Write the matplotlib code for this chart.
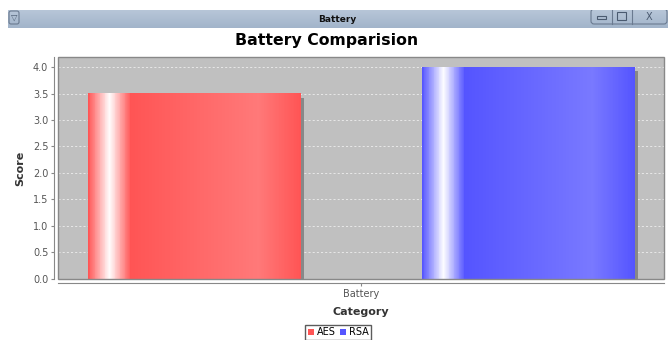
import numpy as np
import matplotlib
matplotlib.use('Agg')
import matplotlib.pyplot as plt
import matplotlib.transforms as mtransforms
from matplotlib.colors import LinearSegmentedColormap, to_rgb
from matplotlib.patches import Patch, Rectangle, FancyBboxPatch

# data
categories = ['Battery']
series = ['AES', 'RSA']
scores = [3.5, 4.0]
colors = ['#FF5555', '#5555FF']
yticks = [0.0, 0.5, 1.0, 1.5, 2.0, 2.5, 3.0, 3.5, 4.0]

plt.rcParams['font.family'] = ['DejaVu Sans']

fig = plt.figure(figsize=(6.71, 3.40), dpi=100)
W, H = 671, 340


def brighter(c):
    r, g, b = to_rgb(c)
    return tuple(min(1.0, v / 0.7) for v in (r, g, b))


# window title bar
bar_ax = fig.add_axes([8 / W, 1 - 28 / H, 660 / W, 18 / H])
grad = np.linspace(0, 1, 64).reshape(-1, 1)
bar_cmap = LinearSegmentedColormap.from_list('tb', ['#B7C6D8', '#A2B4CA'])
bar_ax.imshow(grad, aspect='auto', cmap=bar_cmap, extent=(0, 660, 0, 18))
bar_ax.set_xlim(0, 660)
bar_ax.set_ylim(0, 18)
bar_ax.axis('off')
bar_ax.text(329, 8, 'Battery', ha='center', va='center', fontsize=6.5,
            fontweight='bold', color='#111111')
bar_ax.add_patch(FancyBboxPatch((1, 4), 10, 13, boxstyle='round,pad=0,rounding_size=2',
                                fc='none', ec='#6a7a90', lw=0.8))
bar_ax.text(6, 11, '▽', ha='center', va='center', fontsize=6, color='#4a5a70')
bar_ax.add_patch(FancyBboxPatch((583, 4), 76, 15, boxstyle='round,pad=0,rounding_size=3',
                                fc='none', ec='#6a7a90', lw=0.8))
bar_ax.plot([604, 604], [4, 18], color='#6a7a90', lw=0.8)
bar_ax.plot([624, 624], [4, 18], color='#6a7a90', lw=0.8)
bar_ax.add_patch(Rectangle((589, 9), 9, 3, fc='none', ec='#4a5a70', lw=0.8))
bar_ax.add_patch(Rectangle((609, 8), 9, 8, fc='none', ec='#4a5a70', lw=0.8))
bar_ax.text(641, 11, 'X', ha='center', va='center', fontsize=7, color='#4a5a70')

# chart
ax = fig.add_axes([58 / W, (H - 279) / H, 606 / W, 222 / H])
ax.set_facecolor('#C0C0C0')

x = np.arange(len(categories))
offsets = [-0.55, 0.55]
width = 0.70

shadow = mtransforms.ScaledTranslation(4 / 100, -4 / 100, fig.dpi_scale_trans)
for i, name in enumerate(series):
    ax.bar(x + offsets[i], [scores[i]], width, color='#888888', linewidth=0,
           transform=ax.transData + shadow, zorder=2)
    bars = ax.bar(x + offsets[i], [scores[i]], width, color=colors[i], linewidth=0,
                  label=name, zorder=3)
    c0 = to_rgb(colors[i])
    c1 = brighter(colors[i])
    cmap = LinearSegmentedColormap.from_list(
        'g%d' % i, [(0.0, c0), (0.1, (1, 1, 1)), (0.2, c0), (0.8, c1), (1.0, c0)])
    for p in bars:
        x0, y0 = p.get_x(), p.get_y()
        ax.imshow(np.linspace(0, 1, 512).reshape(1, -1), cmap=cmap, aspect='auto',
                  extent=(x0, x0 + p.get_width(), y0, y0 + p.get_height()),
                  zorder=4, interpolation='nearest')

ax.set_xlim(-1, 1)
ax.set_ylim(-0.005, 4.19)
ax.set_yticks(yticks)
ax.set_yticklabels(['%.1f' % v for v in yticks])
ax.set_xticks(x)
ax.set_xticklabels(categories)

ax.yaxis.grid(True, color='#EEEEEE', linestyle=(0, (2.5, 2.5)), linewidth=0.6)
ax.set_axisbelow(True)

for s in ['top', 'right']:
    ax.spines[s].set_visible(False)
for s in ['left', 'bottom']:
    ax.spines[s].set_position(('outward', 3))
    ax.spines[s].set_color('#888888')
ax.add_patch(Rectangle((0, 0), 1, 1, transform=ax.transAxes, fill=False,
                       ec='#888888', lw=1, zorder=5, clip_on=False))

ax.tick_params(axis='both', labelsize=7, colors='#888888', labelcolor='#555555',
               length=2, width=0.8, pad=2)

ax.set_ylabel('Score', fontsize=8, color='#333333', fontweight='semibold')
ax.yaxis.set_label_coords(-0.054, 0.5)
ax.set_xlabel('Category', fontsize=8, color='#333333', fontweight='semibold')
ax.xaxis.set_label_coords(0.5, -0.128)

fig.text(327 / W, 1 - 40 / H, 'Battery Comparision', ha='center', va='center',
         fontsize=11.3, fontweight='bold', color='black')

handles = [Patch(facecolor=c, edgecolor='none') for c in colors]
fig.legend(handles, series, loc='upper center', bbox_to_anchor=(338 / W, 1 - 325 / H),
           ncol=2, fontsize=7, frameon=True, fancybox=False, edgecolor='#333333',
           handlelength=0.7, handleheight=0.7, handletextpad=0.25, columnspacing=0.4,
           borderpad=0.25, borderaxespad=0)

fig.savefig('out.png', dpi=100, facecolor='white')
